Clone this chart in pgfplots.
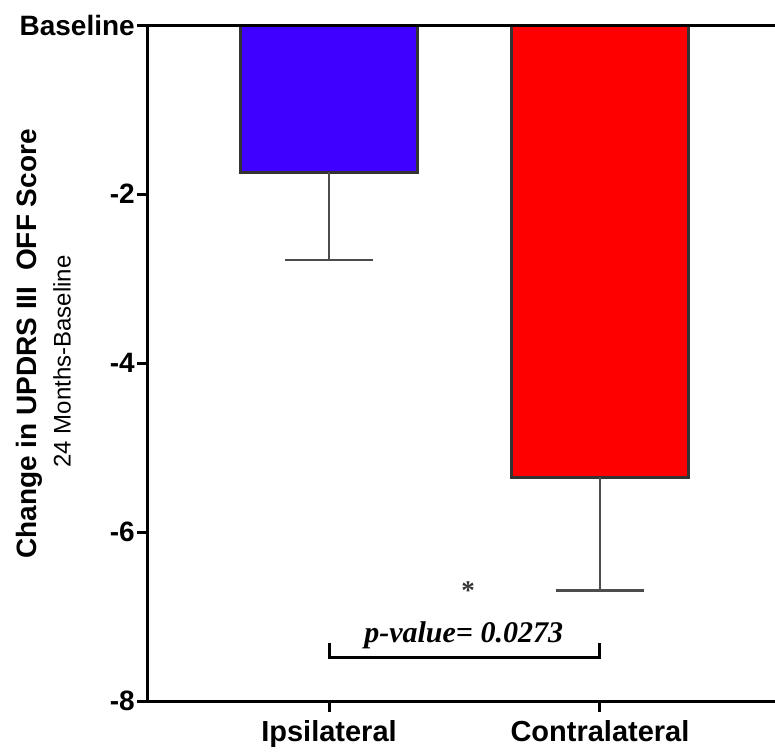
\documentclass[border=0pt]{standalone}
\usepackage{pgfplots}
\pgfplotsset{compat=1.18}
\usepackage{fontspec}
\setmainfont{Liberation Sans}
\newfontfamily\timesf{Liberation Serif}
\definecolor{blueC}{HTML}{4000FF}
\definecolor{redC}{HTML}{FF0000}
\begin{document}
\begin{tikzpicture}
\begin{axis}[
  scale only axis, width=627pt, height=676pt,
  xmin=-0.668, xmax=1.646, ymin=-8, ymax=0,
  axis x line=bottom, axis y line=left,
  axis line style={-, line width=3pt},
  xtick={0,1}, xticklabels={Ipsilateral,Contralateral},
  ytick={-8,-6,-4,-2,0}, yticklabels={-8,-6,-4,-2,Baseline},
  tick align=outside, major tick length=11pt,
  tick style={line width=3pt, black},
  yticklabel style={inner sep=2pt, font=\fontsize{28}{30}\selectfont\bfseries},
  xticklabel style={yshift=-5pt, font=\fontsize{29}{31}\selectfont\bfseries},
  clip=false,
]
\addplot[ybar, bar width=0.65, bar shift=0pt, fill=blueC, draw=black!80, line width=3pt,
  error bars/.cd, y dir=minus, y explicit,
  error bar style={line width=2.5pt, black!70},
  error mark options={rotate=90, mark size=44pt, line width=2.5pt, black!70}]
  coordinates {(0,-1.74) +- (0,1.04)};
\addplot[ybar, bar width=0.65, bar shift=0pt, fill=redC, draw=black!80, line width=3pt,
  error bars/.cd, y dir=minus, y explicit,
  error bar style={line width=2.5pt, black!70},
  error mark options={rotate=90, mark size=44pt, line width=2.5pt, black!70}]
  coordinates {(1,-5.35) +- (0,1.34)};
\draw[line width=3pt] (rel axis cs:0,1) -- (rel axis cs:1,1);
\draw[line width=3pt] (axis cs:0,-7.31) -- (axis cs:0,-7.48) -- (axis cs:1,-7.48) -- (axis cs:1,-7.31);
\node[anchor=base, inner sep=0pt, font=\timesf\bfseries\itshape\fontsize{30}{32}\selectfont] at (axis cs:0.497,-7.31) {p-value= 0.0273};
\node[anchor=north, inner sep=0pt, text=black!80, font=\timesf\bfseries\fontsize{27}{30}\selectfont] at (axis cs:0.513,-6.58) {*};
\node[rotate=90, font=\bfseries\fontsize{28}{31}\selectfont] at (axis cs:-1.107,-3.775) {Change in UPDRS III~ OFF Score};
\node[rotate=90, font=\fontsize{24}{26}\selectfont] at (axis cs:-0.985,-3.98) {24 Months-Baseline};
\end{axis}
\pgfresetboundingbox
\path[use as bounding box] ([shift={(-148pt,-52pt)}]current axis.south west) rectangle ([shift={(627pt,701pt)}]current axis.south west);
\end{tikzpicture}
\end{document}
